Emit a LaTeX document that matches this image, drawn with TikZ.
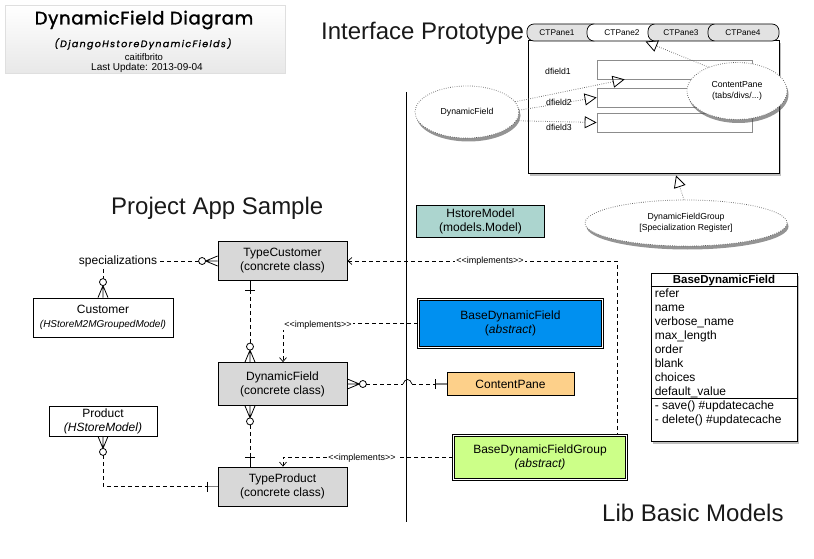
\documentclass[tikz,border=0pt]{standalone}
\usepackage{fontspec}
\setmainfont{Liberation Sans}
\newfontfamily\titlefont[LetterSpace=4,FakeBold=1.6]{Poppins}
\newfontfamily\subtitlefont[LetterSpace=14,FakeBold=1.2]{Poppins}
\usetikzlibrary{arrows.meta,shadows,shapes.geometric,calc}
\newcommand\fsz[2]{\fontsize{#1pt}{#2pt}\selectfont}
\definecolor{boxgray}{HTML}{D8D8D8}
\definecolor{hsteal}{HTML}{ACD5CF}
\definecolor{bdfblue}{HTML}{0090F0}
\definecolor{cporange}{HTML}{FDD08A}
\definecolor{bdfggreen}{HTML}{CCFF88}
\definecolor{tabgray}{HTML}{E2E2E2}
\definecolor{fieldgray}{HTML}{8C8C8C}
% crow's foot on a vertical connector: #1 edge point, #2 = -1 (away upwards) or 1 (away downwards)
\newcommand\crowV[2]{%
  \draw[line width=0.8pt] ($(#1)+(0,#2*12)$) -- ($(#1)+(-5,0)$)
    ($(#1)+(0,#2*12)$) -- (#1)
    ($(#1)+(0,#2*12)$) -- ($(#1)+(5,0)$);
  \draw[line width=0.8pt, fill=white] ($(#1)+(0,#2*15.5)$) circle[radius=3.5];}
\newcommand\crowH[2]{%
  \draw[line width=0.8pt] ($(#1)+(#2*12,0)$) -- ($(#1)+(0,-5)$)
    ($(#1)+(#2*12,0)$) -- (#1)
    ($(#1)+(#2*12,0)$) -- ($(#1)+(0,5)$);
  \draw[line width=0.8pt, fill=white] ($(#1)+(#2*15.5,0)$) circle[radius=3.5];}
\newcommand\barV[1]{\draw[line width=0.8pt] ($(#1)+(-5,0)$) -- ($(#1)+(5,0)$);}
\newcommand\barH[1]{\draw[line width=0.8pt] ($(#1)+(0,-5)$) -- ($(#1)+(0,5)$);}
\begin{document}
\begin{tikzpicture}[x=1pt,y=-1pt,
  every node/.style={inner sep=0pt},
  cls/.style={draw, line width=0.8pt, fill=boxgray, minimum width=129pt, minimum height=39pt, align=center, font=\fsz{12}{14}},
  plainbox/.style={draw, line width=0.8pt, fill=white, align=center, font=\fsz{12}{14}},
  dbl/.style={draw, line width=0.6pt, double=white, double distance=1.8pt, align=center, font=\fsz{12}{14}},
  dl/.style={line width=0.7pt, dash pattern=on 4pt off 3pt},
  dotl/.style={line width=0.8pt, dash pattern=on 0.6pt off 1.6pt, draw=black!65},
  ell/.style={ellipse, draw=black!65, line width=0.8pt, dash pattern=on 0.6pt off 1.6pt, fill=white, align=center, font=\fsz{8.7}{10.5},
    drop shadow={shadow xshift=1.5pt, shadow yshift=-3.5pt, opacity=0.6, fill=black!70}},
  lbl/.style={fill=white, font=\fsz{9}{11}, inner sep=1pt},
  tri/.style={-{Triangle[open, length=12pt, width=12pt, line width=0.8pt, color=black]}},
  barb/.style={-{Straight Barb[length=4pt, width=7pt, line width=0.7pt]}},
  barbin/.style={{Straight Barb[length=4pt, width=7pt, line width=0.7pt]}-},
  tab/.style={draw, line width=0.7pt, rounded corners=7pt, minimum height=17pt},
  tabtxt/.style={font=\fsz{8.3}{10}},
  field/.style={draw=fieldgray, line width=0.7pt, minimum width=155pt, minimum height=19pt},
  fieldtxt/.style={font=\fsz{8.7}{10}, anchor=west},
  heading/.style={font=\fsz{24}{28}, anchor=base west, text=black!90}]
\useasboundingbox (0,0) rectangle (814,559);

% ---------- title block ----------
\node[draw=gray!25, line width=0.8pt, top color=white, bottom color=gray!18, minimum width=280pt, minimum height=68pt] (tbox) at (145,39) {};
\node[font=\titlefont\fsz{18}{20}] (ttl) at (144,20) {DynamicField Diagram};
\node[font=\subtitlefont\itshape\fsz{9.5}{11}] (sub) at (143,44) {(DjangoHstoreDynamicFields)};
\node[font=\fsz{9.5}{11}] (auth) at (144,57) {caitifbrito};
\node[font=\fsz{10}{11}] (upd) at (147,68) {Last Update: 2013-09-04};

% ---------- headings ----------
\node[heading] (hip) at (321,40) {Interface Prototype};
\node[heading] (hpa) at (111,214) {Project App Sample};
\node[heading] (hlb) at (602,521) {Lib Basic Models};

% ---------- interface prototype ----------
\node[draw, line width=0.9pt, fill=white, minimum width=251pt, minimum height=133pt,
  drop shadow={shadow xshift=1.5pt, shadow yshift=-3pt, opacity=0.5}] (win) at (653.5,106.5) {};
\node[field] (f1) at (674.5,69.5) {};
\node[field] (f2) at (674.5,97.5) {};
\node[field] (f3) at (674.5,122.5) {};
\node[fieldtxt] (l1) at (545,71) {dfield1};
\node[fieldtxt] (l2) at (546,102) {dfield2};
\node[fieldtxt] (l3) at (546,127) {dfield3};
\node[tab, fill=tabgray, minimum width=73pt] (t1) at (563.5,32.5) {};
\node[tab, fill=white, minimum width=73pt] (t2) at (623.5,32.5) {};
\node[tab, fill=tabgray, minimum width=72pt] (t3) at (684,32.5) {};
\node[tab, fill=tabgray, minimum width=71pt] (t4) at (743.5,32.5) {};
\node[tabtxt] (tt1) at (557,32.5) {CTPane1};
\node[tabtxt] (tt2) at (622,32.5) {CTPane2};
\node[tabtxt] (tt3) at (681,32.5) {CTPane3};
\node[tabtxt] (tt4) at (743,32.5) {CTPane4};

\node[ell, minimum width=100pt, minimum height=57pt] (cpe) at (737,91) {ContentPane\\(tabs/divs/...)};
\node[ell, minimum width=104pt, minimum height=52pt] (dfe) at (467,112) {DynamicField};
\node[ell, minimum width=202pt, minimum height=46pt] (dfge) at (686,223) {DynamicFieldGroup\\{[}Specialization Register{]}};

\coordinate (a1) at ($(f1.south west)+(28,0)$);
\coordinate (a4) at ($(win.north west)+(118,2)$);
\coordinate (wb) at ($(win.south)+(22.5,2)$);
\draw[dotl, tri] (dfe.12) -- (a1);
\draw[dotl, tri] (dfe.2) -- (f2.west);
\draw[dotl, tri] (dfe.-10) -- (f3.west);
\draw[dotl, tri] (cpe.140) -- (a4);
\draw[dotl, tri] (dfge.95) -- (wb);

% ---------- separator ----------
\coordinate (vt) at (406,92);
\coordinate (vb) at (406,522);
\draw[line width=0.9pt] (vt) -- (vb);

% ---------- project app sample ----------
\node[cls] (tc) at (282.5,261) {TypeCustomer\\(concrete class)};
\node[cls, minimum height=43pt] (df) at (282.5,384) {DynamicField\\(concrete class)};
\node[cls] (tp) at (282.5,486.5) {TypeProduct\\(concrete class)};
\node[plainbox, minimum width=140pt, minimum height=39pt] (cust) at (103,317.5) {Customer\\{\fsz{10}{12}\itshape (HStoreM2MGroupedModel)}};
\node[plainbox, minimum width=108pt, minimum height=30pt] (prod) at (103,421) {Product\\\textit{(HStoreModel)}};
\node[font=\fsz{12}{14}] (spec) at (118,261) {specializations};

% ---------- lib basic models ----------
\node[draw, line width=0.8pt, fill=hsteal, minimum width=128pt, minimum height=32pt, align=center, font=\fsz{12}{14}] (hm) at (480.5,221) {HstoreModel\\(models.Model)};
\node[dbl, fill=bdfblue, minimum width=184pt, minimum height=48pt] (bdf) at (510.5,323.5) {BaseDynamicField\\(\textit{abstract})};
\node[draw, line width=0.8pt, fill=cporange, minimum width=127pt, minimum height=23pt, font=\fsz{12}{14}] (cp) at (510.5,384) {ContentPane};
\node[dbl, fill=bdfggreen, minimum width=173pt, minimum height=44pt] (bdfg) at (540,457.5) {BaseDynamicFieldGroup\\\textit{(abstract)}};

\node[draw, line width=0.9pt, fill=white, minimum width=146pt, minimum height=168pt,
  drop shadow={shadow xshift=2pt, shadow yshift=-3pt, opacity=0.5}] (uml) at (724,357) {};
\draw[line width=0.8pt] ($(uml.north west)+(0,14)$) -- ($(uml.north east)+(0,14)$);
\draw[line width=0.8pt] ($(uml.north west)+(0,126)$) -- ($(uml.north east)+(0,126)$);
\node[font=\bfseries\fsz{11.5}{14}, anchor=base] (umlh) at ($(uml.north)+(0,11)$) {BaseDynamicField};
\node[font=\fsz{12}{14}, anchor=north west, align=left] (umla) at ($(uml.north west)+(4,16)$) {refer\\name\\verbose\_name\\max\_length\\order\\blank\\choices\\default\_value};
\node[font=\fsz{12}{14}, anchor=north west, align=left] (umlm) at ($(uml.north west)+(4,128)$) {- save() \#updatecache\\- delete() \#updatecache};

% ---------- connectors ----------
% specializations -> TypeCustomer
\draw[dl] ($(spec.east)+(3,0)$) -- ($(tc.west)+(-19,0)$);
\crowH{tc.west}{-1}
% specializations -> Customer
\draw[dl] ($(spec.south -| cust.north)+(0,2)$) -- ($(cust.north)+(0,-19)$);
\crowV{cust.north}{-1}
% TypeCustomer -> DynamicField
\coordinate (tcb) at ($(tc.south)+(-32.5,0)$);
\coordinate (dft) at ($(df.north)+(-32.5,0)$);
\coordinate (b1) at ($(tcb)+(0,9)$);
\draw[line width=0.8pt] (tcb) -- (b1);
\barV{b1}
\draw[dl] (b1) -- ($(dft)+(0,-19)$);
\crowV{dft}{-1}
% BaseDynamicField implements -> DynamicField
\coordinate (i1) at ($(df.north)+(0.5,0)$);
\draw[dl, barb] (bdf.west) -- (bdf.west -| i1) -- (i1);
\node[lbl] (imp1) at (318,325) {<{}<implements>{}>};
% BaseDynamicFieldGroup implements -> TypeCustomer
\coordinate (r1) at ($(bdfg.north east)+(-9.5,0)$);
\draw[dl, barbin] (tc.east) -- (tc.east -| r1) -- (r1);
\node[lbl] (imp2) at (490,261) {<{}<implements>{}>};
% DynamicField -> ContentPane
\crowH{df.east}{1}
\coordinate (h1) at ($(df.east -| vt)+(-3,0)$);
\coordinate (h2) at ($(df.east -| vt)+(6,0)$);
\coordinate (cpb) at ($(cp.west)+(-11,0)$);
\draw[dl] ($(df.east)+(19,0)$) -- (h1);
\draw[line width=0.7pt] (h1) .. controls ($(h1)+(2,-6)$) and ($(h2)+(-2,-6)$) .. (h2);
\draw[dl] (h2) -- (cpb);
\barH{cpb}
\draw[line width=1.6pt, gray] (cpb) -- (cp.west);
% DynamicField -> TypeProduct
\coordinate (dfb) at ($(df.south)+(-32.5,0)$);
\coordinate (tpt) at ($(tp.north)+(-32.5,0)$);
\crowV{dfb}{1}
\coordinate (b2) at ($(tpt)+(0,-9)$);
\draw[dl] ($(dfb)+(0,19)$) -- (b2);
\barV{b2}
\draw[line width=0.8pt] (b2) -- (tpt);
% BaseDynamicFieldGroup implements -> TypeProduct
\coordinate (i2) at ($(tp.north)+(0.5,0)$);
\draw[dl, barb] (bdfg.west) -- (bdfg.west -| i2) -- (i2);
\node[lbl] (imp3) at (362,458) {<{}<implements>{}>};
% Product -> TypeProduct
\crowV{prod.south}{1}
\coordinate (tpb) at ($(tp.west)+(-10,0)$);
\draw[dl] ($(prod.south)+(0,19)$) -- (prod.south |- tp.west) -- (tpb);
\barH{tpb}
\draw[line width=1.6pt, gray] (tpb) -- (tp.west);
\end{tikzpicture}
\end{document}
